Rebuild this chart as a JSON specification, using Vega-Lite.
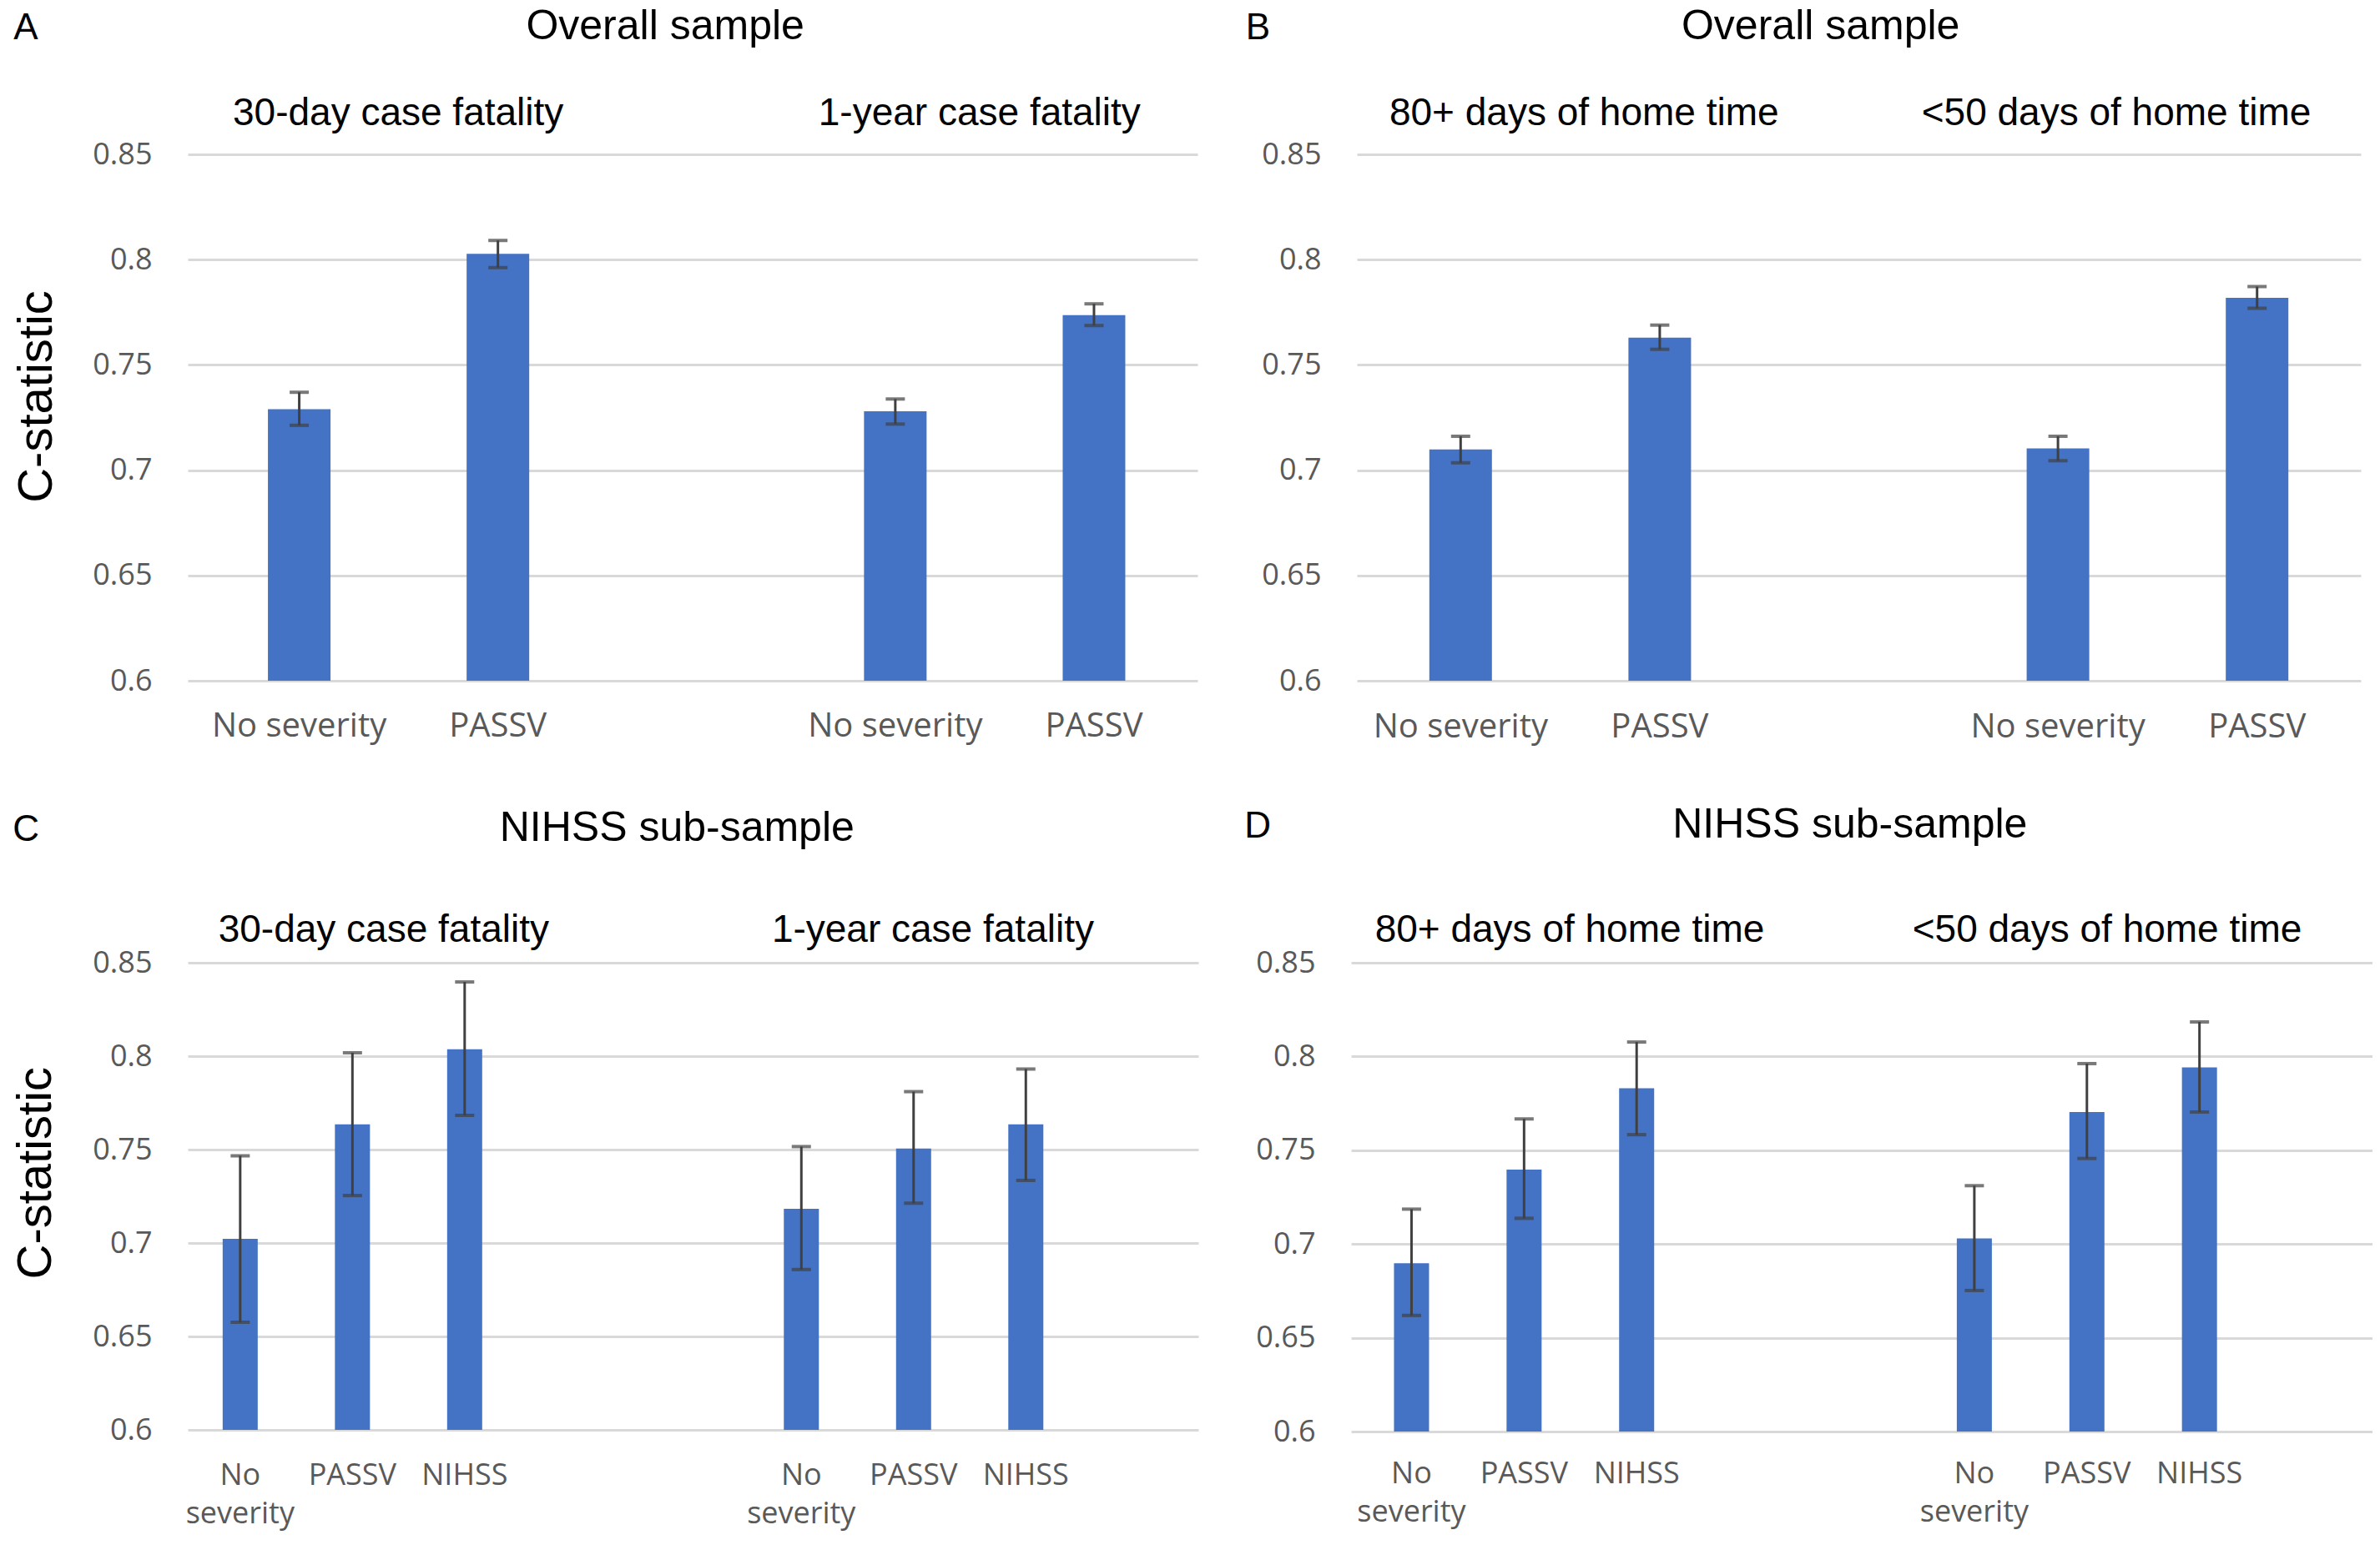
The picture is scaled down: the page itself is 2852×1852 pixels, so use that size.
{
  "$schema": "https://vega.github.io/schema/vega-lite/v6.json",
  "background": "white",
  "padding": {"left": 15, "top": 7, "right": 0, "bottom": 3},
  "config": {"view": {"stroke": null}},
  "datasets": {
    "A": [
      {"slot": 0, "label": "No severity", "value": 0.729, "lo": 0.7213, "hi": 0.737},
      {"slot": 1, "label": "PASSV", "value": 0.8028, "lo": 0.7962, "hi": 0.8091},
      {"slot": 3, "label": "No severity", "value": 0.728, "lo": 0.7219, "hi": 0.7338},
      {"slot": 4, "label": "PASSV", "value": 0.7736, "lo": 0.7687, "hi": 0.779}
    ],
    "B": [
      {"slot": 0, "label": "No severity", "value": 0.7098, "lo": 0.7035, "hi": 0.7161},
      {"slot": 1, "label": "PASSV", "value": 0.7629, "lo": 0.7574, "hi": 0.7689},
      {"slot": 3, "label": "No severity", "value": 0.7103, "lo": 0.7045, "hi": 0.7161},
      {"slot": 4, "label": "PASSV", "value": 0.7819, "lo": 0.7769, "hi": 0.7872}
    ],
    "C": [
      {"slot": 0, "label": "No severity", "value": 0.7022, "lo": 0.6576, "hi": 0.7467},
      {"slot": 1, "label": "PASSV", "value": 0.7635, "lo": 0.7254, "hi": 0.8018},
      {"slot": 2, "label": "NIHSS", "value": 0.8037, "lo": 0.7683, "hi": 0.8397},
      {"slot": 5, "label": "No severity", "value": 0.7183, "lo": 0.6858, "hi": 0.7516},
      {"slot": 6, "label": "PASSV", "value": 0.7506, "lo": 0.7213, "hi": 0.781},
      {"slot": 7, "label": "NIHSS", "value": 0.7635, "lo": 0.7335, "hi": 0.7931}
    ],
    "D": [
      {"slot": 0, "label": "No severity", "value": 0.6898, "lo": 0.6619, "hi": 0.7186},
      {"slot": 1, "label": "PASSV", "value": 0.7397, "lo": 0.7137, "hi": 0.7667},
      {"slot": 2, "label": "NIHSS", "value": 0.783, "lo": 0.7583, "hi": 0.8077},
      {"slot": 5, "label": "No severity", "value": 0.703, "lo": 0.6752, "hi": 0.7311},
      {"slot": 6, "label": "PASSV", "value": 0.7704, "lo": 0.7456, "hi": 0.7962},
      {"slot": 7, "label": "NIHSS", "value": 0.7942, "lo": 0.7704, "hi": 0.8184}
    ]
  },
  "spacing": 72,
  "vconcat": [
    {
      "spacing": 57,
      "hconcat": [
        {
          "width": 1210, "height": 631,
          "layer": [
            {"data": {"name": "A"}, "mark": {"type": "bar", "width": 75, "color": "#4472C4"},
             "encoding": {
               "x": {"field": "slot", "type": "quantitative", "scale": {"domain": [-0.54, 4.5], "nice": false, "zero": false}, "axis": null},
               "y": {"field": "value", "type": "quantitative", "title": null, "scale": {"domain": [0.6, 0.85], "nice": false, "zero": false}, "axis": {"values": [0.6, 0.65, 0.7, 0.75, 0.8, 0.85], "format": "~g", "title": null, "domain": false, "ticks": false, "grid": true, "gridColor": "#D9D9D9", "gridWidth": 3, "labelFont": "Open Sans", "labelFontSize": 36, "labelColor": "#595959", "labelPadding": 43}},
               "y2": {"datum": 0.6}}},
            {"data": {"name": "A"}, "mark": {"type": "rule", "color": "#404040", "strokeWidth": 3},
             "encoding": {
               "x": {"field": "slot", "type": "quantitative", "scale": {"domain": [-0.54, 4.5], "nice": false, "zero": false}, "axis": null},
               "y": {"field": "lo", "type": "quantitative", "title": null, "scale": {"domain": [0.6, 0.85], "nice": false, "zero": false}, "axis": {"values": [0.6, 0.65, 0.7, 0.75, 0.8, 0.85], "format": "~g", "title": null, "domain": false, "ticks": false, "grid": true, "gridColor": "#D9D9D9", "gridWidth": 3, "labelFont": "Open Sans", "labelFontSize": 36, "labelColor": "#595959", "labelPadding": 43}},
               "y2": {"field": "hi"}}},
            {"data": {"name": "A"}, "mark": {"type": "tick", "orient": "horizontal", "size": 23, "thickness": 4, "color": "#404040"},
             "encoding": {
               "x": {"field": "slot", "type": "quantitative", "scale": {"domain": [-0.54, 4.5], "nice": false, "zero": false}, "axis": null},
               "y": {"field": "lo", "type": "quantitative", "title": null, "scale": {"domain": [0.6, 0.85], "nice": false, "zero": false}, "axis": {"values": [0.6, 0.65, 0.7, 0.75, 0.8, 0.85], "format": "~g", "title": null, "domain": false, "ticks": false, "grid": true, "gridColor": "#D9D9D9", "gridWidth": 3, "labelFont": "Open Sans", "labelFontSize": 36, "labelColor": "#595959", "labelPadding": 43}}}},
            {"data": {"name": "A"}, "mark": {"type": "tick", "orient": "horizontal", "size": 23, "thickness": 4, "color": "#404040"},
             "encoding": {
               "x": {"field": "slot", "type": "quantitative", "scale": {"domain": [-0.54, 4.5], "nice": false, "zero": false}, "axis": null},
               "y": {"field": "hi", "type": "quantitative", "title": null, "scale": {"domain": [0.6, 0.85], "nice": false, "zero": false}, "axis": {"values": [0.6, 0.65, 0.7, 0.75, 0.8, 0.85], "format": "~g", "title": null, "domain": false, "ticks": false, "grid": true, "gridColor": "#D9D9D9", "gridWidth": 3, "labelFont": "Open Sans", "labelFontSize": 36, "labelColor": "#595959", "labelPadding": 43}}}},
            {"data": {"name": "A"}, "mark": {"type": "text", "font": "Open Sans", "fontSize": 40, "color": "#595959", "align": "center", "baseline": "alphabetic"},
             "encoding": {
               "x": {"field": "slot", "type": "quantitative", "scale": {"domain": [-0.54, 4.5], "nice": false, "zero": false}, "axis": null},
               "y": {"datum": 0.5735, "type": "quantitative", "title": null, "scale": {"domain": [0.6, 0.85], "nice": false, "zero": false}, "axis": {"values": [0.6, 0.65, 0.7, 0.75, 0.8, 0.85], "format": "~g", "title": null, "domain": false, "ticks": false, "grid": true, "gridColor": "#D9D9D9", "gridWidth": 3, "labelFont": "Open Sans", "labelFontSize": 36, "labelColor": "#595959", "labelPadding": 43}},
               "text": {"field": "label"}}},
            {"data": {"values": [{}]}, "mark": {"type": "text", "text": "A", "font": "Liberation Sans", "fontSize": 44, "color": "#000000", "align": "left", "baseline": "alphabetic"},
             "encoding": {
               "x": {"datum": -1.4375, "type": "quantitative", "scale": {"domain": [-0.54, 4.5], "nice": false, "zero": false}, "axis": null},
               "y": {"datum": 0.9046, "type": "quantitative", "title": null, "scale": {"domain": [0.6, 0.85], "nice": false, "zero": false}, "axis": {"values": [0.6, 0.65, 0.7, 0.75, 0.8, 0.85], "format": "~g", "title": null, "domain": false, "ticks": false, "grid": true, "gridColor": "#D9D9D9", "gridWidth": 3, "labelFont": "Open Sans", "labelFontSize": 36, "labelColor": "#595959", "labelPadding": 43}}}},
            {"data": {"values": [{}]}, "mark": {"type": "text", "text": "Overall sample", "font": "Liberation Sans", "fontSize": 50, "color": "#000000", "align": "center", "baseline": "alphabetic"},
             "encoding": {
               "x": {"datum": 1.842, "type": "quantitative", "scale": {"domain": [-0.54, 4.5], "nice": false, "zero": false}, "axis": null},
               "y": {"datum": 0.9046, "type": "quantitative", "title": null, "scale": {"domain": [0.6, 0.85], "nice": false, "zero": false}, "axis": {"values": [0.6, 0.65, 0.7, 0.75, 0.8, 0.85], "format": "~g", "title": null, "domain": false, "ticks": false, "grid": true, "gridColor": "#D9D9D9", "gridWidth": 3, "labelFont": "Open Sans", "labelFontSize": 36, "labelColor": "#595959", "labelPadding": 43}}}},
            {"data": {"values": [{}]}, "mark": {"type": "text", "text": "30-day case fatality", "font": "Liberation Sans", "fontSize": 46, "color": "#000000", "align": "center", "baseline": "alphabetic"},
             "encoding": {
               "x": {"datum": 0.498, "type": "quantitative", "scale": {"domain": [-0.54, 4.5], "nice": false, "zero": false}, "axis": null},
               "y": {"datum": 0.8638, "type": "quantitative", "title": null, "scale": {"domain": [0.6, 0.85], "nice": false, "zero": false}, "axis": {"values": [0.6, 0.65, 0.7, 0.75, 0.8, 0.85], "format": "~g", "title": null, "domain": false, "ticks": false, "grid": true, "gridColor": "#D9D9D9", "gridWidth": 3, "labelFont": "Open Sans", "labelFontSize": 36, "labelColor": "#595959", "labelPadding": 43}}}},
            {"data": {"values": [{}]}, "mark": {"type": "text", "text": "1-year case fatality", "font": "Liberation Sans", "fontSize": 46, "color": "#000000", "align": "center", "baseline": "alphabetic"},
             "encoding": {
               "x": {"datum": 3.424, "type": "quantitative", "scale": {"domain": [-0.54, 4.5], "nice": false, "zero": false}, "axis": null},
               "y": {"datum": 0.8638, "type": "quantitative", "title": null, "scale": {"domain": [0.6, 0.85], "nice": false, "zero": false}, "axis": {"values": [0.6, 0.65, 0.7, 0.75, 0.8, 0.85], "format": "~g", "title": null, "domain": false, "ticks": false, "grid": true, "gridColor": "#D9D9D9", "gridWidth": 3, "labelFont": "Open Sans", "labelFontSize": 36, "labelColor": "#595959", "labelPadding": 43}}}},
            {"data": {"values": [{}]}, "mark": {"type": "text", "text": "C-statistic", "angle": 270, "font": "Liberation Sans", "fontSize": 58, "color": "#000000", "align": "center", "baseline": "alphabetic"},
             "encoding": {
               "x": {"datum": -1.2458, "type": "quantitative", "scale": {"domain": [-0.54, 4.5], "nice": false, "zero": false}, "axis": null},
               "y": {"datum": 0.7349, "type": "quantitative", "title": null, "scale": {"domain": [0.6, 0.85], "nice": false, "zero": false}, "axis": {"values": [0.6, 0.65, 0.7, 0.75, 0.8, 0.85], "format": "~g", "title": null, "domain": false, "ticks": false, "grid": true, "gridColor": "#D9D9D9", "gridWidth": 3, "labelFont": "Open Sans", "labelFontSize": 36, "labelColor": "#595959", "labelPadding": 43}}}}
          ]
        },
        {
          "width": 1203, "height": 631,
          "layer": [
            {"data": {"name": "B"}, "mark": {"type": "bar", "width": 75, "color": "#4472C4"},
             "encoding": {
               "x": {"field": "slot", "type": "quantitative", "scale": {"domain": [-0.5, 4.5], "nice": false, "zero": false}, "axis": null},
               "y": {"field": "value", "type": "quantitative", "title": null, "scale": {"domain": [0.6, 0.85], "nice": false, "zero": false}, "axis": {"values": [0.6, 0.65, 0.7, 0.75, 0.8, 0.85], "format": "~g", "title": null, "domain": false, "ticks": false, "grid": true, "gridColor": "#D9D9D9", "gridWidth": 3, "labelFont": "Open Sans", "labelFontSize": 36, "labelColor": "#595959", "labelPadding": 43}},
               "y2": {"datum": 0.6}}},
            {"data": {"name": "B"}, "mark": {"type": "rule", "color": "#404040", "strokeWidth": 3},
             "encoding": {
               "x": {"field": "slot", "type": "quantitative", "scale": {"domain": [-0.5, 4.5], "nice": false, "zero": false}, "axis": null},
               "y": {"field": "lo", "type": "quantitative", "title": null, "scale": {"domain": [0.6, 0.85], "nice": false, "zero": false}, "axis": {"values": [0.6, 0.65, 0.7, 0.75, 0.8, 0.85], "format": "~g", "title": null, "domain": false, "ticks": false, "grid": true, "gridColor": "#D9D9D9", "gridWidth": 3, "labelFont": "Open Sans", "labelFontSize": 36, "labelColor": "#595959", "labelPadding": 43}},
               "y2": {"field": "hi"}}},
            {"data": {"name": "B"}, "mark": {"type": "tick", "orient": "horizontal", "size": 23, "thickness": 4, "color": "#404040"},
             "encoding": {
               "x": {"field": "slot", "type": "quantitative", "scale": {"domain": [-0.5, 4.5], "nice": false, "zero": false}, "axis": null},
               "y": {"field": "lo", "type": "quantitative", "title": null, "scale": {"domain": [0.6, 0.85], "nice": false, "zero": false}, "axis": {"values": [0.6, 0.65, 0.7, 0.75, 0.8, 0.85], "format": "~g", "title": null, "domain": false, "ticks": false, "grid": true, "gridColor": "#D9D9D9", "gridWidth": 3, "labelFont": "Open Sans", "labelFontSize": 36, "labelColor": "#595959", "labelPadding": 43}}}},
            {"data": {"name": "B"}, "mark": {"type": "tick", "orient": "horizontal", "size": 23, "thickness": 4, "color": "#404040"},
             "encoding": {
               "x": {"field": "slot", "type": "quantitative", "scale": {"domain": [-0.5, 4.5], "nice": false, "zero": false}, "axis": null},
               "y": {"field": "hi", "type": "quantitative", "title": null, "scale": {"domain": [0.6, 0.85], "nice": false, "zero": false}, "axis": {"values": [0.6, 0.65, 0.7, 0.75, 0.8, 0.85], "format": "~g", "title": null, "domain": false, "ticks": false, "grid": true, "gridColor": "#D9D9D9", "gridWidth": 3, "labelFont": "Open Sans", "labelFontSize": 36, "labelColor": "#595959", "labelPadding": 43}}}},
            {"data": {"name": "B"}, "mark": {"type": "text", "font": "Open Sans", "fontSize": 40, "color": "#595959", "align": "center", "baseline": "alphabetic"},
             "encoding": {
               "x": {"field": "slot", "type": "quantitative", "scale": {"domain": [-0.5, 4.5], "nice": false, "zero": false}, "axis": null},
               "y": {"datum": 0.5731, "type": "quantitative", "title": null, "scale": {"domain": [0.6, 0.85], "nice": false, "zero": false}, "axis": {"values": [0.6, 0.65, 0.7, 0.75, 0.8, 0.85], "format": "~g", "title": null, "domain": false, "ticks": false, "grid": true, "gridColor": "#D9D9D9", "gridWidth": 3, "labelFont": "Open Sans", "labelFontSize": 36, "labelColor": "#595959", "labelPadding": 43}},
               "text": {"field": "label"}}},
            {"data": {"values": [{}]}, "mark": {"type": "text", "text": "B", "font": "Liberation Sans", "fontSize": 44, "color": "#000000", "align": "left", "baseline": "alphabetic"},
             "encoding": {
               "x": {"datum": -1.079, "type": "quantitative", "scale": {"domain": [-0.5, 4.5], "nice": false, "zero": false}, "axis": null},
               "y": {"datum": 0.9046, "type": "quantitative", "title": null, "scale": {"domain": [0.6, 0.85], "nice": false, "zero": false}, "axis": {"values": [0.6, 0.65, 0.7, 0.75, 0.8, 0.85], "format": "~g", "title": null, "domain": false, "ticks": false, "grid": true, "gridColor": "#D9D9D9", "gridWidth": 3, "labelFont": "Open Sans", "labelFontSize": 36, "labelColor": "#595959", "labelPadding": 43}}}},
            {"data": {"values": [{}]}, "mark": {"type": "text", "text": "Overall sample", "font": "Liberation Sans", "fontSize": 50, "color": "#000000", "align": "center", "baseline": "alphabetic"},
             "encoding": {
               "x": {"datum": 1.808, "type": "quantitative", "scale": {"domain": [-0.5, 4.5], "nice": false, "zero": false}, "axis": null},
               "y": {"datum": 0.9046, "type": "quantitative", "title": null, "scale": {"domain": [0.6, 0.85], "nice": false, "zero": false}, "axis": {"values": [0.6, 0.65, 0.7, 0.75, 0.8, 0.85], "format": "~g", "title": null, "domain": false, "ticks": false, "grid": true, "gridColor": "#D9D9D9", "gridWidth": 3, "labelFont": "Open Sans", "labelFontSize": 36, "labelColor": "#595959", "labelPadding": 43}}}},
            {"data": {"values": [{}]}, "mark": {"type": "text", "text": "80+ days of home time", "font": "Liberation Sans", "fontSize": 46, "color": "#000000", "align": "center", "baseline": "alphabetic"},
             "encoding": {
               "x": {"datum": 0.62, "type": "quantitative", "scale": {"domain": [-0.5, 4.5], "nice": false, "zero": false}, "axis": null},
               "y": {"datum": 0.8638, "type": "quantitative", "title": null, "scale": {"domain": [0.6, 0.85], "nice": false, "zero": false}, "axis": {"values": [0.6, 0.65, 0.7, 0.75, 0.8, 0.85], "format": "~g", "title": null, "domain": false, "ticks": false, "grid": true, "gridColor": "#D9D9D9", "gridWidth": 3, "labelFont": "Open Sans", "labelFontSize": 36, "labelColor": "#595959", "labelPadding": 43}}}},
            {"data": {"values": [{}]}, "mark": {"type": "text", "text": "<50 days of home time", "font": "Liberation Sans", "fontSize": 46, "color": "#000000", "align": "center", "baseline": "alphabetic"},
             "encoding": {
               "x": {"datum": 3.293, "type": "quantitative", "scale": {"domain": [-0.5, 4.5], "nice": false, "zero": false}, "axis": null},
               "y": {"datum": 0.8638, "type": "quantitative", "title": null, "scale": {"domain": [0.6, 0.85], "nice": false, "zero": false}, "axis": {"values": [0.6, 0.65, 0.7, 0.75, 0.8, 0.85], "format": "~g", "title": null, "domain": false, "ticks": false, "grid": true, "gridColor": "#D9D9D9", "gridWidth": 3, "labelFont": "Open Sans", "labelFontSize": 36, "labelColor": "#595959", "labelPadding": 43}}}}
          ]
        }
      ]
    },
    {
      "spacing": 55,
      "hconcat": [
        {
          "width": 1211, "height": 560,
          "layer": [
            {"data": {"name": "C"}, "mark": {"type": "bar", "width": 42, "color": "#4472C4"},
             "encoding": {
               "x": {"field": "slot", "type": "quantitative", "scale": {"domain": [-0.43, 8.5], "nice": false, "zero": false}, "axis": null},
               "y": {"field": "value", "type": "quantitative", "title": null, "scale": {"domain": [0.6, 0.85], "nice": false, "zero": false}, "axis": {"values": [0.6, 0.65, 0.7, 0.75, 0.8, 0.85], "format": "~g", "title": null, "domain": false, "ticks": false, "grid": true, "gridColor": "#D9D9D9", "gridWidth": 3, "labelFont": "Open Sans", "labelFontSize": 36, "labelColor": "#595959", "labelPadding": 43}},
               "y2": {"datum": 0.6}}},
            {"data": {"name": "C"}, "mark": {"type": "rule", "color": "#404040", "strokeWidth": 3},
             "encoding": {
               "x": {"field": "slot", "type": "quantitative", "scale": {"domain": [-0.43, 8.5], "nice": false, "zero": false}, "axis": null},
               "y": {"field": "lo", "type": "quantitative", "title": null, "scale": {"domain": [0.6, 0.85], "nice": false, "zero": false}, "axis": {"values": [0.6, 0.65, 0.7, 0.75, 0.8, 0.85], "format": "~g", "title": null, "domain": false, "ticks": false, "grid": true, "gridColor": "#D9D9D9", "gridWidth": 3, "labelFont": "Open Sans", "labelFontSize": 36, "labelColor": "#595959", "labelPadding": 43}},
               "y2": {"field": "hi"}}},
            {"data": {"name": "C"}, "mark": {"type": "tick", "orient": "horizontal", "size": 23, "thickness": 4, "color": "#404040"},
             "encoding": {
               "x": {"field": "slot", "type": "quantitative", "scale": {"domain": [-0.43, 8.5], "nice": false, "zero": false}, "axis": null},
               "y": {"field": "lo", "type": "quantitative", "title": null, "scale": {"domain": [0.6, 0.85], "nice": false, "zero": false}, "axis": {"values": [0.6, 0.65, 0.7, 0.75, 0.8, 0.85], "format": "~g", "title": null, "domain": false, "ticks": false, "grid": true, "gridColor": "#D9D9D9", "gridWidth": 3, "labelFont": "Open Sans", "labelFontSize": 36, "labelColor": "#595959", "labelPadding": 43}}}},
            {"data": {"name": "C"}, "mark": {"type": "tick", "orient": "horizontal", "size": 23, "thickness": 4, "color": "#404040"},
             "encoding": {
               "x": {"field": "slot", "type": "quantitative", "scale": {"domain": [-0.43, 8.5], "nice": false, "zero": false}, "axis": null},
               "y": {"field": "hi", "type": "quantitative", "title": null, "scale": {"domain": [0.6, 0.85], "nice": false, "zero": false}, "axis": {"values": [0.6, 0.65, 0.7, 0.75, 0.8, 0.85], "format": "~g", "title": null, "domain": false, "ticks": false, "grid": true, "gridColor": "#D9D9D9", "gridWidth": 3, "labelFont": "Open Sans", "labelFontSize": 36, "labelColor": "#595959", "labelPadding": 43}}}},
            {"data": {"name": "C"}, "mark": {"type": "text", "font": "Open Sans", "fontSize": 36, "color": "#595959", "align": "center", "baseline": "alphabetic", "lineBreak": " ", "lineHeight": 46},
             "encoding": {
               "x": {"field": "slot", "type": "quantitative", "scale": {"domain": [-0.43, 8.5], "nice": false, "zero": false}, "axis": null},
               "y": {"datum": 0.5705, "type": "quantitative", "title": null, "scale": {"domain": [0.6, 0.85], "nice": false, "zero": false}, "axis": {"values": [0.6, 0.65, 0.7, 0.75, 0.8, 0.85], "format": "~g", "title": null, "domain": false, "ticks": false, "grid": true, "gridColor": "#D9D9D9", "gridWidth": 3, "labelFont": "Open Sans", "labelFontSize": 36, "labelColor": "#595959", "labelPadding": 43}},
               "text": {"field": "label"}}},
            {"data": {"values": [{}]}, "mark": {"type": "text", "text": "C", "font": "Liberation Sans", "fontSize": 44, "color": "#000000", "align": "left", "baseline": "alphabetic"},
             "encoding": {
               "x": {"datum": -2.027, "type": "quantitative", "scale": {"domain": [-0.43, 8.5], "nice": false, "zero": false}, "axis": null},
               "y": {"datum": 0.9152, "type": "quantitative", "title": null, "scale": {"domain": [0.6, 0.85], "nice": false, "zero": false}, "axis": {"values": [0.6, 0.65, 0.7, 0.75, 0.8, 0.85], "format": "~g", "title": null, "domain": false, "ticks": false, "grid": true, "gridColor": "#D9D9D9", "gridWidth": 3, "labelFont": "Open Sans", "labelFontSize": 36, "labelColor": "#595959", "labelPadding": 43}}}},
            {"data": {"values": [{}]}, "mark": {"type": "text", "text": "NIHSS sub-sample", "font": "Liberation Sans", "fontSize": 50, "color": "#000000", "align": "center", "baseline": "alphabetic"},
             "encoding": {
               "x": {"datum": 3.892, "type": "quantitative", "scale": {"domain": [-0.43, 8.5], "nice": false, "zero": false}, "axis": null},
               "y": {"datum": 0.9152, "type": "quantitative", "title": null, "scale": {"domain": [0.6, 0.85], "nice": false, "zero": false}, "axis": {"values": [0.6, 0.65, 0.7, 0.75, 0.8, 0.85], "format": "~g", "title": null, "domain": false, "ticks": false, "grid": true, "gridColor": "#D9D9D9", "gridWidth": 3, "labelFont": "Open Sans", "labelFontSize": 36, "labelColor": "#595959", "labelPadding": 43}}}},
            {"data": {"values": [{}]}, "mark": {"type": "text", "text": "30-day case fatality", "font": "Liberation Sans", "fontSize": 46, "color": "#000000", "align": "center", "baseline": "alphabetic"},
             "encoding": {
               "x": {"datum": 1.279, "type": "quantitative", "scale": {"domain": [-0.43, 8.5], "nice": false, "zero": false}, "axis": null},
               "y": {"datum": 0.8612, "type": "quantitative", "title": null, "scale": {"domain": [0.6, 0.85], "nice": false, "zero": false}, "axis": {"values": [0.6, 0.65, 0.7, 0.75, 0.8, 0.85], "format": "~g", "title": null, "domain": false, "ticks": false, "grid": true, "gridColor": "#D9D9D9", "gridWidth": 3, "labelFont": "Open Sans", "labelFontSize": 36, "labelColor": "#595959", "labelPadding": 43}}}},
            {"data": {"values": [{}]}, "mark": {"type": "text", "text": "1-year case fatality", "font": "Liberation Sans", "fontSize": 46, "color": "#000000", "align": "center", "baseline": "alphabetic"},
             "encoding": {
               "x": {"datum": 6.172, "type": "quantitative", "scale": {"domain": [-0.43, 8.5], "nice": false, "zero": false}, "axis": null},
               "y": {"datum": 0.8612, "type": "quantitative", "title": null, "scale": {"domain": [0.6, 0.85], "nice": false, "zero": false}, "axis": {"values": [0.6, 0.65, 0.7, 0.75, 0.8, 0.85], "format": "~g", "title": null, "domain": false, "ticks": false, "grid": true, "gridColor": "#D9D9D9", "gridWidth": 3, "labelFont": "Open Sans", "labelFontSize": 36, "labelColor": "#595959", "labelPadding": 43}}}},
            {"data": {"values": [{}]}, "mark": {"type": "text", "text": "C-statistic", "angle": 270, "font": "Liberation Sans", "fontSize": 58, "color": "#000000", "align": "center", "baseline": "alphabetic"},
             "encoding": {
               "x": {"datum": -1.686, "type": "quantitative", "scale": {"domain": [-0.43, 8.5], "nice": false, "zero": false}, "axis": null},
               "y": {"datum": 0.7374, "type": "quantitative", "title": null, "scale": {"domain": [0.6, 0.85], "nice": false, "zero": false}, "axis": {"values": [0.6, 0.65, 0.7, 0.75, 0.8, 0.85], "format": "~g", "title": null, "domain": false, "ticks": false, "grid": true, "gridColor": "#D9D9D9", "gridWidth": 3, "labelFont": "Open Sans", "labelFontSize": 36, "labelColor": "#595959", "labelPadding": 43}}}}
          ]
        },
        {
          "width": 1224, "height": 562,
          "layer": [
            {"data": {"name": "D"}, "mark": {"type": "bar", "width": 42, "color": "#4472C4"},
             "encoding": {
               "x": {"field": "slot", "type": "quantitative", "scale": {"domain": [-0.5, 8.5], "nice": false, "zero": false}, "axis": null},
               "y": {"field": "value", "type": "quantitative", "title": null, "scale": {"domain": [0.6, 0.85], "nice": false, "zero": false}, "axis": {"values": [0.6, 0.65, 0.7, 0.75, 0.8, 0.85], "format": "~g", "title": null, "domain": false, "ticks": false, "grid": true, "gridColor": "#D9D9D9", "gridWidth": 3, "labelFont": "Open Sans", "labelFontSize": 36, "labelColor": "#595959", "labelPadding": 43}},
               "y2": {"datum": 0.6}}},
            {"data": {"name": "D"}, "mark": {"type": "rule", "color": "#404040", "strokeWidth": 3},
             "encoding": {
               "x": {"field": "slot", "type": "quantitative", "scale": {"domain": [-0.5, 8.5], "nice": false, "zero": false}, "axis": null},
               "y": {"field": "lo", "type": "quantitative", "title": null, "scale": {"domain": [0.6, 0.85], "nice": false, "zero": false}, "axis": {"values": [0.6, 0.65, 0.7, 0.75, 0.8, 0.85], "format": "~g", "title": null, "domain": false, "ticks": false, "grid": true, "gridColor": "#D9D9D9", "gridWidth": 3, "labelFont": "Open Sans", "labelFontSize": 36, "labelColor": "#595959", "labelPadding": 43}},
               "y2": {"field": "hi"}}},
            {"data": {"name": "D"}, "mark": {"type": "tick", "orient": "horizontal", "size": 23, "thickness": 4, "color": "#404040"},
             "encoding": {
               "x": {"field": "slot", "type": "quantitative", "scale": {"domain": [-0.5, 8.5], "nice": false, "zero": false}, "axis": null},
               "y": {"field": "lo", "type": "quantitative", "title": null, "scale": {"domain": [0.6, 0.85], "nice": false, "zero": false}, "axis": {"values": [0.6, 0.65, 0.7, 0.75, 0.8, 0.85], "format": "~g", "title": null, "domain": false, "ticks": false, "grid": true, "gridColor": "#D9D9D9", "gridWidth": 3, "labelFont": "Open Sans", "labelFontSize": 36, "labelColor": "#595959", "labelPadding": 43}}}},
            {"data": {"name": "D"}, "mark": {"type": "tick", "orient": "horizontal", "size": 23, "thickness": 4, "color": "#404040"},
             "encoding": {
               "x": {"field": "slot", "type": "quantitative", "scale": {"domain": [-0.5, 8.5], "nice": false, "zero": false}, "axis": null},
               "y": {"field": "hi", "type": "quantitative", "title": null, "scale": {"domain": [0.6, 0.85], "nice": false, "zero": false}, "axis": {"values": [0.6, 0.65, 0.7, 0.75, 0.8, 0.85], "format": "~g", "title": null, "domain": false, "ticks": false, "grid": true, "gridColor": "#D9D9D9", "gridWidth": 3, "labelFont": "Open Sans", "labelFontSize": 36, "labelColor": "#595959", "labelPadding": 43}}}},
            {"data": {"name": "D"}, "mark": {"type": "text", "font": "Open Sans", "fontSize": 36, "color": "#595959", "align": "center", "baseline": "alphabetic", "lineBreak": " ", "lineHeight": 46},
             "encoding": {
               "x": {"field": "slot", "type": "quantitative", "scale": {"domain": [-0.5, 8.5], "nice": false, "zero": false}, "axis": null},
               "y": {"datum": 0.5722, "type": "quantitative", "title": null, "scale": {"domain": [0.6, 0.85], "nice": false, "zero": false}, "axis": {"values": [0.6, 0.65, 0.7, 0.75, 0.8, 0.85], "format": "~g", "title": null, "domain": false, "ticks": false, "grid": true, "gridColor": "#D9D9D9", "gridWidth": 3, "labelFont": "Open Sans", "labelFontSize": 36, "labelColor": "#595959", "labelPadding": 43}},
               "text": {"field": "label"}}},
            {"data": {"values": [{}]}, "mark": {"type": "text", "text": "D", "font": "Liberation Sans", "fontSize": 44, "color": "#000000", "align": "left", "baseline": "alphabetic"},
             "encoding": {
               "x": {"datum": -1.485, "type": "quantitative", "scale": {"domain": [-0.5, 8.5], "nice": false, "zero": false}, "axis": null},
               "y": {"datum": 0.9167, "type": "quantitative", "title": null, "scale": {"domain": [0.6, 0.85], "nice": false, "zero": false}, "axis": {"values": [0.6, 0.65, 0.7, 0.75, 0.8, 0.85], "format": "~g", "title": null, "domain": false, "ticks": false, "grid": true, "gridColor": "#D9D9D9", "gridWidth": 3, "labelFont": "Open Sans", "labelFontSize": 36, "labelColor": "#595959", "labelPadding": 43}}}},
            {"data": {"values": [{}]}, "mark": {"type": "text", "text": "NIHSS sub-sample", "font": "Liberation Sans", "fontSize": 50, "color": "#000000", "align": "center", "baseline": "alphabetic"},
             "encoding": {
               "x": {"datum": 3.895, "type": "quantitative", "scale": {"domain": [-0.5, 8.5], "nice": false, "zero": false}, "axis": null},
               "y": {"datum": 0.9167, "type": "quantitative", "title": null, "scale": {"domain": [0.6, 0.85], "nice": false, "zero": false}, "axis": {"values": [0.6, 0.65, 0.7, 0.75, 0.8, 0.85], "format": "~g", "title": null, "domain": false, "ticks": false, "grid": true, "gridColor": "#D9D9D9", "gridWidth": 3, "labelFont": "Open Sans", "labelFontSize": 36, "labelColor": "#595959", "labelPadding": 43}}}},
            {"data": {"values": [{}]}, "mark": {"type": "text", "text": "80+ days of home time", "font": "Liberation Sans", "fontSize": 46, "color": "#000000", "align": "center", "baseline": "alphabetic"},
             "encoding": {
               "x": {"datum": 1.405, "type": "quantitative", "scale": {"domain": [-0.5, 8.5], "nice": false, "zero": false}, "axis": null},
               "y": {"datum": 0.8612, "type": "quantitative", "title": null, "scale": {"domain": [0.6, 0.85], "nice": false, "zero": false}, "axis": {"values": [0.6, 0.65, 0.7, 0.75, 0.8, 0.85], "format": "~g", "title": null, "domain": false, "ticks": false, "grid": true, "gridColor": "#D9D9D9", "gridWidth": 3, "labelFont": "Open Sans", "labelFontSize": 36, "labelColor": "#595959", "labelPadding": 43}}}},
            {"data": {"values": [{}]}, "mark": {"type": "text", "text": "<50 days of home time", "font": "Liberation Sans", "fontSize": 46, "color": "#000000", "align": "center", "baseline": "alphabetic"},
             "encoding": {
               "x": {"datum": 6.18, "type": "quantitative", "scale": {"domain": [-0.5, 8.5], "nice": false, "zero": false}, "axis": null},
               "y": {"datum": 0.8612, "type": "quantitative", "title": null, "scale": {"domain": [0.6, 0.85], "nice": false, "zero": false}, "axis": {"values": [0.6, 0.65, 0.7, 0.75, 0.8, 0.85], "format": "~g", "title": null, "domain": false, "ticks": false, "grid": true, "gridColor": "#D9D9D9", "gridWidth": 3, "labelFont": "Open Sans", "labelFontSize": 36, "labelColor": "#595959", "labelPadding": 43}}}}
          ]
        }
      ]
    }
  ]
}
